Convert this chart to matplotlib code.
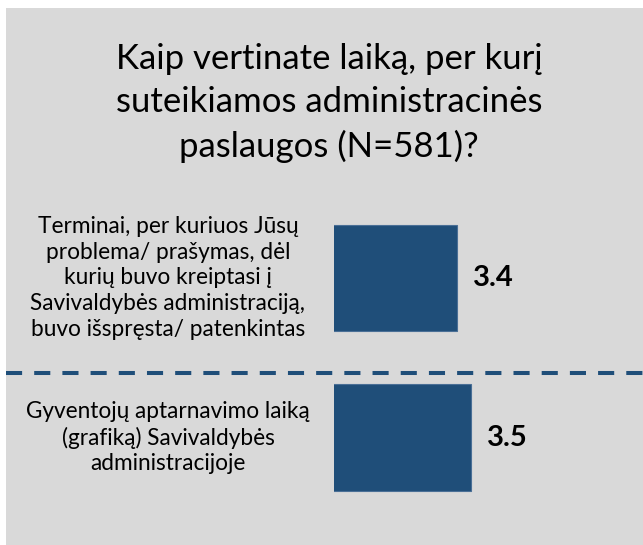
import matplotlib
matplotlib.use("Agg")
import matplotlib.pyplot as plt
import matplotlib.transforms as mtransforms
from matplotlib.patches import Rectangle

# chart data
title = "Kaip vertinate laiką, per kurį\nsuteikiamos administracinės\npaslaugos (N=581)?"
categories = [
    "Terminai, per kuriuos Jūsų\nproblema/ prašymas, dėl\nkurių buvo kreiptasi į\nSavivaldybės administraciją,\nbuvo išspręsta/ patenkintas",
    "Gyventojų aptarnavimo laiką\n(grafiką) Savivaldybės\nadministracijoje",
]
scores = [3.4, 3.5]

# colours
bar_color = "#1f4e79"
bg_color = "#d9d9d9"

plt.rcParams['font.family'] = ['Lato', 'DejaVu Sans']

W, H = 643, 545
fig = plt.figure(figsize=(W / 100, H / 100), dpi=100)
fig.patch.set_facecolor("white")

# grey panel
fig.patches.append(Rectangle((6 / W, 0), 1 - 6 / W, 1 - 8 / H, transform=fig.transFigure,
                             facecolor=bg_color, edgecolor="none", zorder=-5))

# axes placed in pixel terms
ax = fig.add_axes([334 / W, 1 - 517.25 / H, 274 / W, 319 / H])
ax.set_facecolor("none")
ax.set_zorder(2)

ypos = list(range(len(categories)))
ax.barh(ypos, scores, left=0, height=0.665, color=bar_color, edgecolor="#4a6f96", linewidth=0.8)
ax.set_xlim(2.5, 4.5)
ax.set_ylim(1.5, -0.5)
ax.axis("off")

# value labels
for y, v in zip(ypos, scores):
    ax.annotate(f"{v}", xy=(v, y), xytext=(11.5, 0), textcoords="offset points",
                ha="left", va="center", fontsize=21, fontweight="bold", color="black")

# category labels
blend = mtransforms.blended_transform_factory(fig.transFigure, ax.transData)
for y, lab in zip(ypos, categories):
    ax.text(168 / W, y, lab, transform=blend, ha="center", va="center",
            multialignment="center", fontsize=16.3, linespacing=1.27, color="black")

# dashed separator
ax.plot([6 / W, 1], [0.596, 0.596], transform=blend, color=bar_color, lw=2.9,
        linestyle=(0, (4, 3)), clip_on=False, solid_capstyle="butt", dash_capstyle="butt")

# title
fig.text(329 / W, 1 - 103 / H, title, ha="center", va="center", multialignment="center",
         fontsize=25, linespacing=1.42, color="black")

fig.savefig("out.png", dpi=100)
